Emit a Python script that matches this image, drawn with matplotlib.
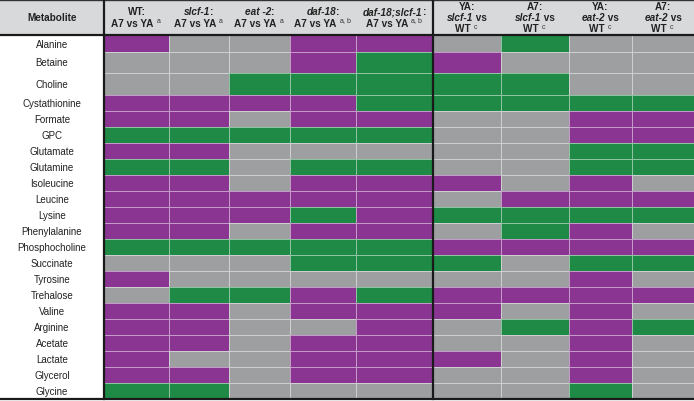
import matplotlib
matplotlib.use("Agg")
import matplotlib.pyplot as plt
import numpy as np
from matplotlib.colors import ListedColormap
from matplotlib.offsetbox import TextArea, HPacker, VPacker, AnnotationBbox

plt.rcParams['font.family'] = ['Liberation Sans', 'DejaVu Sans']
plt.rcParams['mathtext.fontset'] = 'custom'
plt.rcParams['mathtext.rm'] = 'Liberation Sans'

# ------------------------------------------------------------------
# data: 1 = higher (purple), 0 = no change (grey), -1 = lower (green)
# ------------------------------------------------------------------
metabolites = ['Alanine', 'Betaine', 'Choline', 'Cystathionine', 'Formate',
               'GPC', 'Glutamate', 'Glutamine', 'Isoleucine', 'Leucine',
               'Lysine', 'Phenylalanine', 'Phosphocholine', 'Succinate',
               'Tyrosine', 'Trehalose', 'Valine', 'Arginine', 'Acetate',
               'Lactate', 'Glycerol', 'Glycine']

wt_a7_ya     = [1, 0, 0, 1, 1, -1, 1, -1, 1, 1, 1, 1, -1, 0, 1, 0, 1, 1, 1, 1, 1, -1]
slcf1_a7_ya  = [0, 0, 0, 1, 1, -1, 1, -1, 1, 1, 1, 1, -1, 0, 0, -1, 1, 1, 1, 0, 1, -1]
eat2_a7_ya   = [0, 0, -1, 1, 0, -1, 0, 0, 0, 1, 1, 0, -1, 0, 0, -1, 0, 0, 0, 0, 0, 0]
daf18_a7_ya  = [1, 1, -1, 1, 1, -1, 0, -1, 1, 1, -1, 1, -1, -1, 0, 1, 1, 0, 1, 1, 1, 0]
daf18slcf1_a7_ya = [1, -1, -1, -1, 1, -1, 0, -1, 1, 1, 1, 1, -1, -1, 0, -1, 1, 1, 1, 1, 1, 0]
ya_slcf1_wt  = [0, 1, -1, -1, 0, 0, 0, 0, 1, 0, -1, 0, 1, -1, 0, 1, 1, 0, 0, 1, 0, 0]
a7_slcf1_wt  = [-1, 0, -1, -1, 0, 0, 0, 0, 0, 1, -1, -1, 1, 0, 0, 1, 0, -1, 0, 0, 0, 0]
ya_eat2_wt   = [0, 0, 0, -1, 1, 1, -1, -1, 1, 1, -1, 1, 1, -1, 1, 1, 1, 1, 1, 1, 1, -1]
a7_eat2_wt   = [0, 0, 0, -1, 1, 1, -1, -1, 0, 1, -1, 0, 1, -1, 0, 1, 0, -1, 0, 0, 0, 0]

# header lines: (text, style) with 'b' bold, 'bi' bold italic
headers = [
    [[('WT:', 'b')], [('A7 vs YA ', 'b'), (r'$^{\rm a}$', 'b')]],
    [[('slcf-1', 'bi'), (':', 'b')], [('A7 vs YA ', 'b'), (r'$^{\rm a}$', 'b')]],
    [[('eat -2', 'bi'), (':', 'b')], [('A7 vs YA ', 'b'), (r'$^{\rm a}$', 'b')]],
    [[('daf-18', 'bi'), (':', 'b')], [('A7 vs YA ', 'b'), (r'$^{\rm a,b}$', 'b')]],
    [[('daf-18;slcf-1', 'bi'), (':', 'b')], [('A7 vs YA ', 'b'), (r'$^{\rm a,b}$', 'b')]],
    [[('YA:', 'b')], [('slcf-1', 'bi'), (' vs', 'b')], [('WT ', 'b'), (r'$^{\rm c}$', 'b')]],
    [[('A7:', 'b')], [('slcf-1', 'bi'), (' vs', 'b')], [('WT ', 'b'), (r'$^{\rm c}$', 'b')]],
    [[('YA:', 'b')], [('eat-2', 'bi'), (' vs', 'b')], [('WT ', 'b'), (r'$^{\rm c}$', 'b')]],
    [[('A7:', 'b')], [('eat-2', 'bi'), (' vs', 'b')], [('WT ', 'b'), (r'$^{\rm c}$', 'b')]],
]

values = np.array([wt_a7_ya, slcf1_a7_ya, eat2_a7_ya, daf18_a7_ya,
                   daf18slcf1_a7_ya, ya_slcf1_wt, a7_slcf1_wt,
                   ya_eat2_wt, a7_eat2_wt]).T

# ------------------------------------------------------------------
# layout (pixels)
# ------------------------------------------------------------------
W, H = 694, 402
x_edges = np.array([104, 169, 229, 290, 356, 433, 501, 569, 632, 694])
header_h = 36
row_h = [17, 21, 22] + [16] * 19
y_edges = header_h + np.concatenate([[0], np.cumsum(row_h)])

purple = '#8B3592'
grey = '#9D9FA1'
green = '#1E8A45'
cmap = ListedColormap([green, grey, purple])

fig = plt.figure(figsize=(W / 100, H / 100), dpi=100)
ax = fig.add_axes([0, 0, 1, 1])
ax.set_xlim(0, W)
ax.set_ylim(H, 0)
ax.axis('off')

# header background
ax.fill_between([0, W], 0, header_h, color='#D8D9DB', lw=0)

# cells
ax.pcolormesh(x_edges, y_edges, values, cmap=cmap, vmin=-1.5, vmax=1.5,
              edgecolors=(1, 1, 1, 0.5), linewidth=0.6)

# borders
ax.plot([0, W], [0.5, 0.5], color='#333333', lw=1.0)
ax.plot([0, W], [header_h, header_h], color='#1a1a1a', lw=1.6)
ax.plot([0, W], [y_edges[-1], y_edges[-1]], color='#1a1a1a', lw=1.6)
for xv in [x_edges[0], x_edges[5]]:
    ax.plot([xv, xv], [0, y_edges[-1]], color='#1a1a1a', lw=1.6)

# metabolite labels
centers = (y_edges[:-1] + y_edges[1:]) / 2
for name, yc in zip(metabolites, centers):
    ax.text(52, yc, name, ha='center', va='center', fontsize=7, color='#222222')

ax.text(52, header_h / 2, 'Metabolite', ha='center', va='center',
        fontsize=7.2, fontweight='bold', color='#222222')

# column headers
def seg_area(txt, style):
    props = dict(fontsize=7.2, fontweight='bold', color='#222222')
    if style == 'bi':
        props['fontstyle'] = 'italic'
    if txt.startswith('$'):
        props = dict(fontsize=7.2, color='#333333')
    return TextArea(txt, textprops=props)

for j, lines in enumerate(headers):
    rows = []
    for line in lines:
        rows.append(HPacker(children=[seg_area(t, s) for t, s in line],
                            align='baseline', pad=0, sep=0))
    box = VPacker(children=rows, align='center', pad=0, sep=1)
    xc = (x_edges[j] + x_edges[j + 1]) / 2
    ab = AnnotationBbox(box, (xc, header_h / 2), xycoords='data',
                        frameon=False, box_alignment=(0.5, 0.5), pad=0)
    ax.add_artist(ab)

fig.savefig('out.png', dpi=100)
